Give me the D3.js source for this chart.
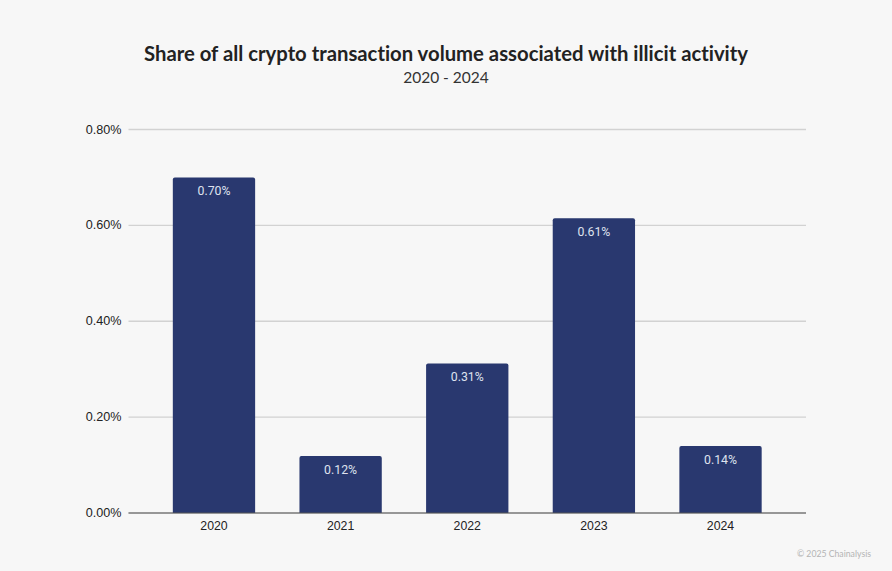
<!DOCTYPE html>
<html>
<head>
<meta charset="utf-8">
<script src="https://cdn.jsdelivr.net/npm/d3@7"></script>
<style>
  html, body { margin: 0; padding: 0; background: #f7f7f7; }
  svg { display: block; }
</style>
</head>
<body>
<svg id="chart"></svg>
<script>
const years = ['2020', '2021', '2022', '2023', '2024'];
const shares = [0.70, 0.119, 0.312, 0.615, 0.14];
const shareLabels = ['0.70%', '0.12%', '0.31%', '0.61%', '0.14%'];
const yTicks = [0, 0.2, 0.4, 0.6, 0.8];
const titleText = 'Share of all crypto transaction volume associated with illicit activity';
const subtitleText = '2020 - 2024';
const creditText = '© 2025 Chainalysis';

const width = 892, height = 571;
const margin = { top: 129.5, right: 86, bottom: 58, left: 128.5 };

const svg = d3.select('#chart').attr('width', width).attr('height', height);

const x = d3.scaleBand()
  .domain(years)
  .range([margin.left, width - margin.right])
  .padding(0.35);
const y = d3.scaleLinear()
  .domain([0, 0.8])
  .range([height - margin.bottom, margin.top]);

// Gridlines and y labels
const yAxis = svg.append('g')
  .attr('transform', `translate(${margin.left},0)`)
  .call(d3.axisLeft(y)
    .offset(0)
    .tickValues(yTicks)
    .tickSize(-(width - margin.left - margin.right))
    .tickPadding(7)
    .tickFormat(d => d3.format('.2f')(d) + '%'));
yAxis.select('.domain').remove();
yAxis.selectAll('.tick line').attr('stroke', '#d2d2d2').attr('stroke-width', 1.4);
yAxis.selectAll('.tick text')
  .attr('fill', '#222')
  .style('font-family', '"Liberation Sans", Arial, sans-serif')
  .style('font-size', '12.6px');

// Bars, rounded at the top only
svg.append('g').selectAll('path')
  .data(years)
  .join('path')
  .attr('fill', '#29386f')
  .attr('d', (d, i) => {
    const x0 = x(d), x1 = x(d) + x.bandwidth(), top = y(shares[i]), base = y(0), r = 2;
    return `M${x0},${base}V${top + r}Q${x0},${top} ${x0 + r},${top}H${x1 - r}Q${x1},${top} ${x1},${top + r}V${base}Z`;
  });

// Bar value labels
svg.append('g').selectAll('text')
  .data(years)
  .join('text')
  .attr('x', d => x(d) + x.bandwidth() / 2)
  .attr('y', (d, i) => y(shares[i]) + 18)
  .attr('text-anchor', 'middle')
  .attr('fill', '#dfe2ee')
  .style('font', '12.3px Roboto, sans-serif')
  .text((d, i) => shareLabels[i]);

// Baseline and x labels
const xAxis = svg.append('g')
  .attr('transform', `translate(0,${height - margin.bottom})`)
  .call(d3.axisBottom(x).offset(0).tickSize(0).tickPadding(8.5));
xAxis.select('.domain').attr('stroke', '#555').attr('stroke-width', 1.2);
xAxis.selectAll('.tick text')
  .attr('fill', '#222')
  .style('font-family', '"Liberation Sans", Arial, sans-serif')
  .style('font-size', '12.3px');

// Title block
svg.append('text')
  .attr('x', 446).attr('y', 61)
  .attr('text-anchor', 'middle')
  .attr('fill', '#222')
  .style('font', '700 20.3px Lato, sans-serif')
  .style('font-variant-ligatures', 'none')
  .text(titleText);
svg.append('text')
  .attr('x', 446).attr('y', 83)
  .attr('text-anchor', 'middle')
  .attr('fill', '#333')
  .style('font', '400 15.5px Lato, sans-serif')
  .text(subtitleText);

svg.append('text')
  .attr('x', 871).attr('y', 557)
  .attr('text-anchor', 'end')
  .attr('fill', '#b4b4b4')
  .style('font', '400 8.7px Lato, sans-serif')
  .text(creditText);
</script>
</body>
</html>
